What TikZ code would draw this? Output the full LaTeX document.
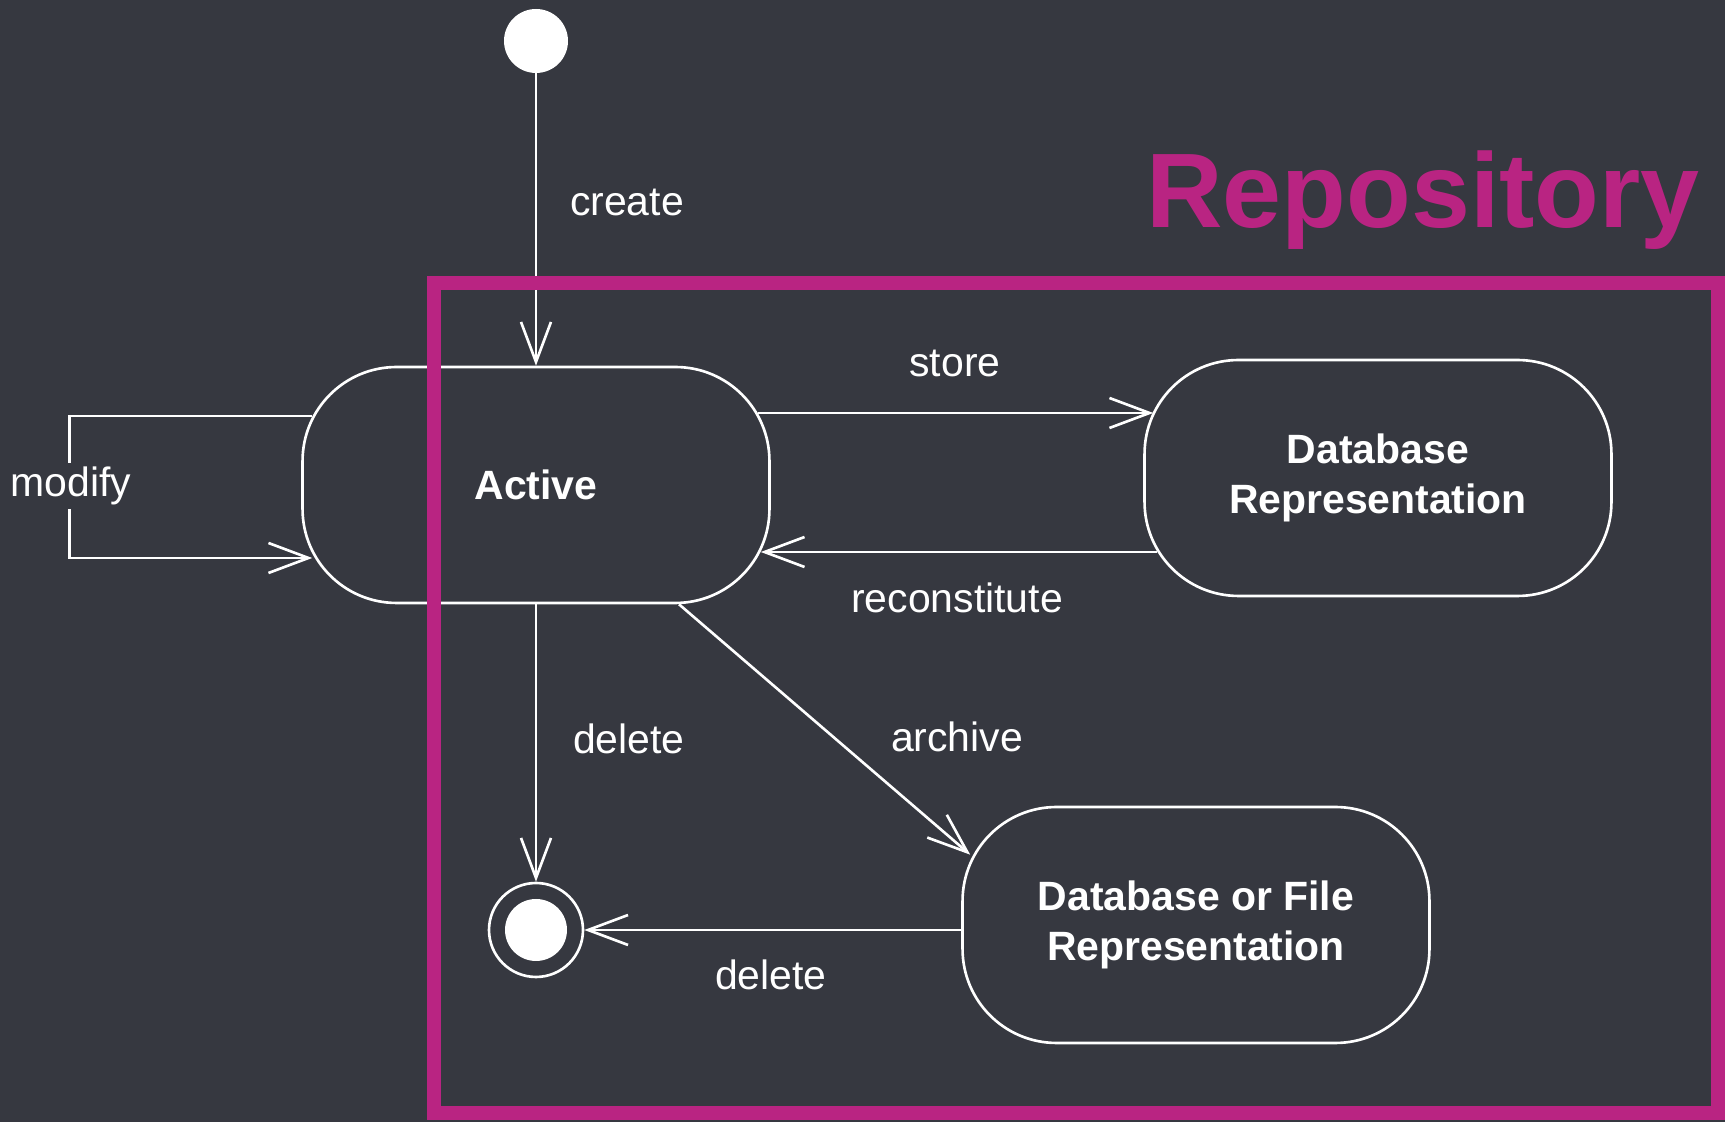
\documentclass[tikz,border=0pt]{standalone}
\usepackage{fontspec}
\setmainfont{Liberation Sans}
\usetikzlibrary{positioning, arrows.meta, calc}
\definecolor{repobg}{RGB}{54, 56, 64}
\definecolor{repomag}{RGB}{185, 36, 130}

\begin{document}
\begin{tikzpicture}[x=0.02cm, y=0.02cm, font=\fontsize{23.3}{28.5}\selectfont,
  stbox/.style={draw=white, line width=1.5pt, rounded corners=1.88cm, minimum width=9.34cm, minimum height=4.72cm, align=center, text=white, font=\fontsize{23.3}{28.5}\selectfont\bfseries},
  trans/.style={draw=white, line width=1.5pt, -{Straight Barb[length=0.8cm, width=0.6cm, line width=1.5pt]}},
  lbl/.style={text=white}]
  \fill[repobg] (0,0) rectangle (1725,1122);
  \useasboundingbox (0,0) rectangle (1725,1122);

  \node[circle, fill=white, inner sep=0, minimum size=1.28cm] (init) at (536,1081) {};
  \node[stbox] (active) at (536,637) {Active};
  \node[stbox] (dbrep) at (1378,644) {Database\\Representation};
  \node[stbox] (dbfile) at (1196,197) {Database or File\\Representation};
  \node[circle, draw=white, line width=1.5pt, inner sep=0, minimum size=1.88cm] (final) at (536,192) {};
  \node[circle, fill=white, inner sep=0, minimum size=1.24cm] (finaldot) at (final) {};

  \draw[trans] (init) -- (active.north);
  \node[lbl] (lcreate) at (627,920) {create};

  \draw[trans] ($(active.west)+(11,69)$) -- ++(-243,0) |- ($(active.west)+(11,-73)$);
  \node[lbl, fill=repobg, inner sep=2pt] (lmodify) at (71,636) {modify};

  \draw[trans] ($(active.east)+(-13,72)$) -- ($(dbrep.west)+(10,65)$);
  \node[lbl] (lstore) at (955,759) {store};

  \draw[trans] ($(dbrep.west)+(14,-74)$) -- ($(active.east)+(-10,-67)$);
  \node[lbl] (lrecon) at (957,524) {reconstitute};

  \draw[trans] ($(active.south)+(143,0)$) -- ($(dbfile.north west)+(9,-49)$);
  \node[lbl] (larchive) at (957,385) {archive};

  \draw[trans] (active.south) -- (final.north);
  \node[lbl] (ldelete) at (629,383) {delete};

  \draw[trans] (final.east -| dbfile.west) -- (final.east);
  \node[lbl] (ldelete2) at (771,147) {delete};

  \draw[repomag, line width=0.28cm] (434,9) rectangle (1718,839);
  \node[text=repomag, inner sep=0, anchor=base east, font=\fontsize{60.3}{72}\selectfont\bfseries] (repo) at (1700,894) {Repository};
\end{tikzpicture}
\end{document}
